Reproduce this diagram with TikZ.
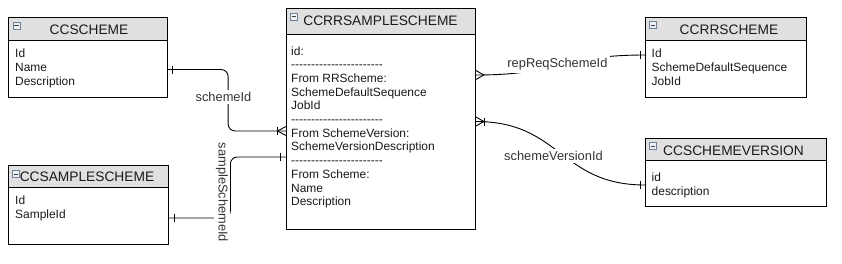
\documentclass[tikz,border=0pt]{standalone}
\usepackage{fontspec}
\setmainfont{Liberation Sans}
\usetikzlibrary{calc}
\definecolor{hdr}{HTML}{E0E0E0}
\definecolor{txt}{HTML}{1A1A1A}
\definecolor{lbl}{HTML}{333333}
\definecolor{icofill}{HTML}{EEF1F5}
\definecolor{icodraw}{HTML}{71839B}
\newcommand\myhy{-\kern0pt}
\newcommand\dashrow{\myhy\myhy\myhy\myhy\myhy\myhy\myhy\myhy\myhy\myhy\myhy\myhy\myhy\myhy\myhy\myhy\myhy\myhy\myhy\myhy\myhy\myhy\myhy}
\begin{document}
\begin{tikzpicture}[x=1bp,y=-1bp,
  tbl/.style={draw=black, line width=0.9bp, fill=white, inner sep=0pt, anchor=north west},
  hdrbox/.style={draw=black, line width=0.9bp, fill=hdr, inner sep=0pt, anchor=north west},
  ttl/.style={font=\fontsize{13.8}{16}\selectfont, text=txt, inner sep=0pt},
  body/.style={font=\fontsize{12}{13.75}\selectfont, text=txt, align=left, inner sep=0pt, anchor=base west},
  ico/.style={draw=icodraw, fill=icofill, minimum size=7bp, inner sep=0pt, line width=0.6bp},
  conn/.style={draw=black, line width=0.9bp},
  rel/.style={font=\fontsize{12.9}{15}\selectfont, text=lbl, fill=white, inner sep=2.5bp},
]
\useasboundingbox (0,0) rectangle (842,263);
\fill[white] (0,0) rectangle (842,263);

% ---------- tables ----------
% (body nodes are placed at the baseline of their LAST line)
% CCSCHEME
\node[tbl, minimum width=159bp, minimum height=80bp] (t1) at (8,17) {};
\node[hdrbox, minimum width=159bp, minimum height=23bp] (t1h) at (t1.north west) {};
\node[ico] (t1i) at ($(t1.north west)+(8.5,8.5)$) {};
\node[ttl] (t1t) at (89,30) {CCSCHEME};
\node[body] (t1b) at (15,85) {Id\\Name\\Description};

% CCSAMPLESCHEME
\node[tbl, minimum width=160bp, minimum height=79bp] (t2) at (8,165) {};
\node[hdrbox, minimum width=160bp, minimum height=22bp] (t2h) at (t2.north west) {};
\node[ico] (t2i) at ($(t2.north west)+(8,9)$) {};
\node[ttl] (t2t) at (87,176.5) {CCSAMPLESCHEME};
\node[body] (t2b) at (15,218.25) {Id\\SampleId};

% CCRRSAMPLESCHEME
\node[tbl, minimum width=189bp, minimum height=221bp] (t3) at (286,8) {};
\node[hdrbox, minimum width=189bp, minimum height=26bp] (t3h) at (t3.north west) {};
\node[ico] (t3i) at ($(t3.north west)+(8,8.5)$) {};
\node[ttl] (t3t) at (380.5,21) {CCRRSAMPLESCHEME};
\node[body] (t3b) at (291,205.75) {id:\\\dashrow\\From RRScheme:\\SchemeDefaultSequence\\JobId\\\dashrow\\From SchemeVersion:\\SchemeVersionDescription\\\dashrow\\From Scheme:\\Name\\Description};

% CCRRSCHEME
\node[tbl, minimum width=161bp, minimum height=80bp] (t4) at (645,17) {};
\node[hdrbox, minimum width=161bp, minimum height=23bp] (t4h) at (t4.north west) {};
\node[ico] (t4i) at ($(t4.north west)+(8,8)$) {};
\node[ttl] (t4t) at (729,30) {CCRRSCHEME};
\node[body] (t4b) at (651.5,85) {Id\\SchemeDefaultSequence\\JobId};

% CCSCHEMEVERSION
\node[tbl, minimum width=181bp, minimum height=68bp] (t5) at (645,138) {};
\node[hdrbox, minimum width=181bp, minimum height=22bp] (t5h) at (t5.north west) {};
\node[ico] (t5i) at ($(t5.north west)+(8,8)$) {};
\node[ttl] (t5t) at (733.5,151) {CCSCHEMEVERSION};
\node[body] (t5b) at (651.5,195.25) {id\\description};

% icon dashes
\foreach \n in {t1i,t2i,t3i,t4i,t5i}{
  \draw[line width=0.7bp, black!75] ($(\n.west)+(1.6,0)$) -- ($(\n.east)+(-1.6,0)$);
}

% ---------- connection points ----------
\coordinate (p1a) at ($(t1.north east)+(0,52.5)$);
\coordinate (p1b) at ($(t3.north west)+(0,123)$);
\coordinate (m1)  at ($(p1a)!0.51!(p1b)$);
\coordinate (p2a) at ($(t2.north east)+(0,53)$);
\coordinate (p2b) at ($(t3.north west)+(0,149)$);
\coordinate (m2)  at ($(p2a)!0.525!(p2b)$);
\coordinate (p3a) at ($(t3.north east)+(0,67)$);
\coordinate (p3b) at ($(t4.north west)+(0,38)$);
\coordinate (p4a) at ($(t3.north east)+(0,113.5)$);
\coordinate (p4b) at ($(t5.north west)+(0,47)$);

% ---------- connectors ----------
\draw[conn, rounded corners=7bp] (p1a) -| (m1) |- (p1b);
\node[rel] (l1) at (223.5,97) {schemeId};

\draw[conn, rounded corners=7bp] (p2a) -| (m2) |- (p2b);
\node[rel, rotate=-90] (l2) at (222,192.5) {sampleSchemeId};

\draw[conn] (p3a) .. controls ($(p3a)+(85,0)$) and ($(p3b)+(-85,0)$) .. (p3b)
  node[rel, pos=0.5, xshift=-3bp, yshift=0.5bp] (l3) {repReqSchemeId};

\draw[conn] (p4a) .. controls ($(p4a)+(85,0)$) and ($(p4b)+(-85,0)$) .. (p4b)
  node[rel, pos=0.5, xshift=-7bp, yshift=-3bp] (l4) {schemeVersionId};

% ---------- end marks ----------
% one-bars
\draw[conn] ($(p1a)+(5,-4)$) -- ++(0,8);
\draw[conn] ($(p2a)+(5.5,-4)$) -- ++(0,8);
\draw[conn] ($(p2b)+(-6,-4)$) -- ++(0,8);
\draw[conn] ($(p3b)+(-4.5,-4)$) -- ++(0,8);
\draw[conn] ($(p4b)+(-4.5,-4)$) -- ++(0,8);
% crow's foot + bar at CCRRSAMPLESCHEME left (schemeId)
\draw[conn] ($(p1b)+(0,-4.5)$) -- ($(p1b)+(-8.5,0)$) -- ($(p1b)+(0,4.5)$);
\draw[conn] ($(p1b)+(-8.5,-4)$) -- ++(0,8);
% crow's foot at CCRRSAMPLESCHEME right (repReqSchemeId)
\draw[conn] ($(p3a)+(0,-4.5)$) -- ($(p3a)+(8,0)$) -- ($(p3a)+(0,4.5)$);
% crow's foot + bar at CCRRSAMPLESCHEME right (schemeVersionId)
\draw[conn] ($(p4a)+(0,-4.5)$) -- ($(p4a)+(8,0)$) -- ($(p4a)+(0,4.5)$);
\draw[conn] ($(p4a)+(9,-4)$) -- ++(0,8);
\end{tikzpicture}
\end{document}
